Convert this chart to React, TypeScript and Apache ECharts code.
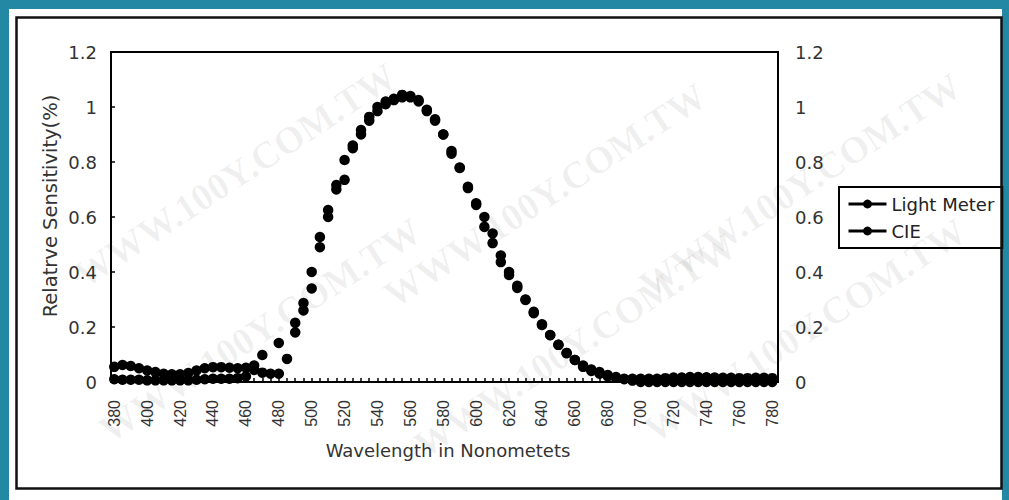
import React, { useEffect, useRef } from "react";
import * as echarts from "echarts";

// Wavelength samples (nm)
const wavelengths = [
  380, 385, 390, 395, 400, 405, 410, 415, 420, 425, 430, 435, 440, 445, 450, 455,
  460, 465, 470, 475, 480, 485, 490, 495, 500, 505, 510, 515, 520, 525, 530, 535,
  540, 545, 550, 555, 560, 565, 570, 575, 580, 585, 590, 595, 600, 605, 610, 615,
  620, 625, 630, 635, 640, 645, 650, 655, 660, 665, 670, 675, 680, 685, 690, 695,
  700, 705, 710, 715, 720, 725, 730, 735, 740, 745, 750, 755, 760, 765, 770, 775, 780,
];

// Light Meter relative sensitivity
const lightMeter = [
  0.055, 0.062, 0.058, 0.05, 0.042, 0.036, 0.03, 0.028, 0.028, 0.033, 0.042, 0.05, 0.054, 0.054, 0.052, 0.05,
  0.052, 0.044, 0.034, 0.03, 0.03, 0.084, 0.215, 0.287, 0.4, 0.527, 0.625, 0.716, 0.807, 0.86, 0.916, 0.964,
  1.0, 1.02, 1.03, 1.044, 1.04, 1.025, 0.99, 0.955, 0.9, 0.84, 0.78, 0.71, 0.65, 0.6, 0.505, 0.46,
  0.4, 0.35, 0.3, 0.25, 0.21, 0.17, 0.135, 0.105, 0.08, 0.06, 0.04, 0.03, 0.02, 0.015, 0.012, 0.012,
  0.012, 0.012, 0.012, 0.014, 0.016, 0.016, 0.018, 0.018, 0.017, 0.016, 0.015, 0.015, 0.014, 0.014, 0.015, 0.015, 0.014,
];

// CIE photopic curve (null = no marker visible)
const cie: (number | null)[] = [
  0.01, 0.008, 0.008, 0.008, 0.006, 0.006, 0.006, 0.006, 0.006, 0.006, 0.008, 0.01, 0.012, 0.012, 0.012, 0.014,
  0.02, 0.06, 0.098, null, 0.142, null, 0.18, 0.26, 0.34, 0.49, 0.6, 0.7, 0.735, 0.85, 0.9, 0.95,
  0.985, 1.01, 1.025, 1.035, 1.035, 1.02, 0.985, 0.95, 0.9, 0.83, 0.778, 0.705, 0.644, 0.564, 0.54, 0.436,
  0.389, 0.342, 0.298, 0.255, 0.207, 0.171, 0.135, 0.105, 0.08, 0.055, 0.045, 0.036, 0.025, 0.018, 0.01, 0.005,
  0, 0, 0, 0, 0, 0, 0, 0, 0, 0, 0, 0, 0, 0, 0, 0, 0,
];

const xLabelValues = [380, 400, 420, 440, 460, 480, 500, 520, 540, 560, 580, 600, 620, 640, 660, 680, 700, 720, 740, 760, 780];
const seriesNames = ["Light Meter", "CIE"];
const xTitle = "Wavelength in Nonometets";
const yTitle = "Relatrve Sensitivity(%)";
const watermarkText = "WWW.100Y.COM.TW";
const watermarkSpots = [
  [235, 175], [260, 330], [545, 195], [575, 345], [800, 185], [805, 330],
];

export default function App() {
  const ref = useRef<HTMLDivElement>(null);

  useEffect(() => {
    if (!ref.current) return;
    const chart = echarts.init(ref.current, null, { renderer: "svg" });

    const textColor = "#333";
    const hFont = "DejaVu Sans";

    const watermarks = watermarkSpots.map(([x, y]) => ({
      type: "text",
      x,
      y,
      rotation: 0.58,
      silent: true,
      z: 1,
      style: {
        text: watermarkText,
        fontFamily: "Liberation Serif",
        fontWeight: "bold",
        fontSize: 38,
        fill: "rgba(0,0,0,0.06)",
        align: "center",
        verticalAlign: "middle",
        textAlign: "center",
        textVerticalAlign: "middle",
      },
    }));

    chart.setOption({
      animation: false,
      backgroundColor: "#2388a3",
      graphic: {
        elements: [
          {
            type: "rect",
            z: -5,
            silent: true,
            shape: { x: 9, y: 9, width: 993, height: 491 },
            style: { fill: "#ffffff" },
          },
          ...watermarks,
          {
            type: "rect",
            z: 6,
            silent: true,
            shape: { x: 16.5, y: 17.5, width: 985, height: 471 },
            style: { fill: "none", stroke: "#111", lineWidth: 2.5 },
          },
          {
            type: "text",
            x: 50,
            y: 206,
            rotation: Math.PI / 2,
            z: 10,
            style: {
              text: yTitle,
              fontFamily: hFont,
              fontSize: 19.5,
              fill: textColor,
              align: "center",
              verticalAlign: "middle",
              textAlign: "center",
              textVerticalAlign: "middle",
            },
          },
          {
            type: "text",
            x: 448,
            y: 450,
            z: 10,
            style: {
              text: xTitle,
              fontFamily: hFont,
              fontSize: 18,
              fill: textColor,
              align: "center",
              verticalAlign: "middle",
              textAlign: "center",
              textVerticalAlign: "middle",
            },
          },
        ],
      },
      grid: {
        left: 111,
        right: 231,
        top: 52,
        bottom: 118,
        show: true,
        borderColor: "#000",
        borderWidth: 2,
        backgroundColor: "transparent",
      },
      legend: {
        orient: "vertical",
        left: 839,
        top: 187,
        data: seriesNames,
        itemWidth: 38,
        itemHeight: 11,
        itemGap: 9,
        padding: [8, 8, 8, 8],
        borderColor: "#000",
        borderWidth: 2,
        borderRadius: 0,
        textStyle: { fontFamily: hFont, fontSize: 18, color: "#222" },
        lineStyle: { width: 3, color: "#000", opacity: 1 },
        itemStyle: { color: "#000" },
      },
      xAxis: {
        type: "value",
        min: 378,
        max: 783.5,
        axisLine: { show: true, onZero: false, lineStyle: { color: "#000", width: 2 } },
        axisTick: {
          show: true,
          inside: true,
          length: 4,
          customValues: wavelengths,
          lineStyle: { color: "#000", width: 1.5 },
        },
        axisLabel: {
          customValues: xLabelValues,
          rotate: 90,
          margin: 18,
          fontFamily: "Liberation Sans",
          fontSize: 16,
          color: textColor,
        },
        splitLine: { show: false },
      },
      yAxis: [
        {
          type: "value",
          min: 0,
          max: 1.2,
          interval: 0.2,
          axisLine: { show: true, lineStyle: { color: "#000", width: 2 } },
          axisTick: { show: true, inside: true, length: 4, lineStyle: { color: "#000", width: 1.5 } },
          axisLabel: { margin: 14, fontFamily: hFont, fontSize: 18, color: textColor },
          splitLine: { show: false },
        },
        {
          type: "value",
          position: "right",
          min: 0,
          max: 1.2,
          interval: 0.2,
          axisLine: { show: false },
          axisTick: { show: false },
          axisLabel: { margin: 17, fontFamily: hFont, fontSize: 18, color: textColor },
          splitLine: { show: false },
        },
      ],
      series: [
        {
          name: seriesNames[0],
          type: "line",
          data: wavelengths.map((w, i) => [w, lightMeter[i]]),
          symbol: "circle",
          symbolSize: 10.5,
          showSymbol: true,
          showAllSymbol: true,
          lineStyle: { width: 0 },
          itemStyle: { color: "#000" },
          z: 3,
        },
        {
          name: seriesNames[1],
          type: "line",
          data: wavelengths.map((w, i) => [w, cie[i] === null ? "-" : cie[i]]),
          symbol: "circle",
          symbolSize: 10.5,
          showSymbol: true,
          showAllSymbol: true,
          lineStyle: { width: 0 },
          itemStyle: { color: "#000" },
          z: 3,
        },
      ],
    });

    return () => chart.dispose();
  }, []);

  return (
    <div
      ref={ref}
      style={{ position: "fixed", left: 0, top: 0, width: 1009, height: 500 }}
    />
  );
}
